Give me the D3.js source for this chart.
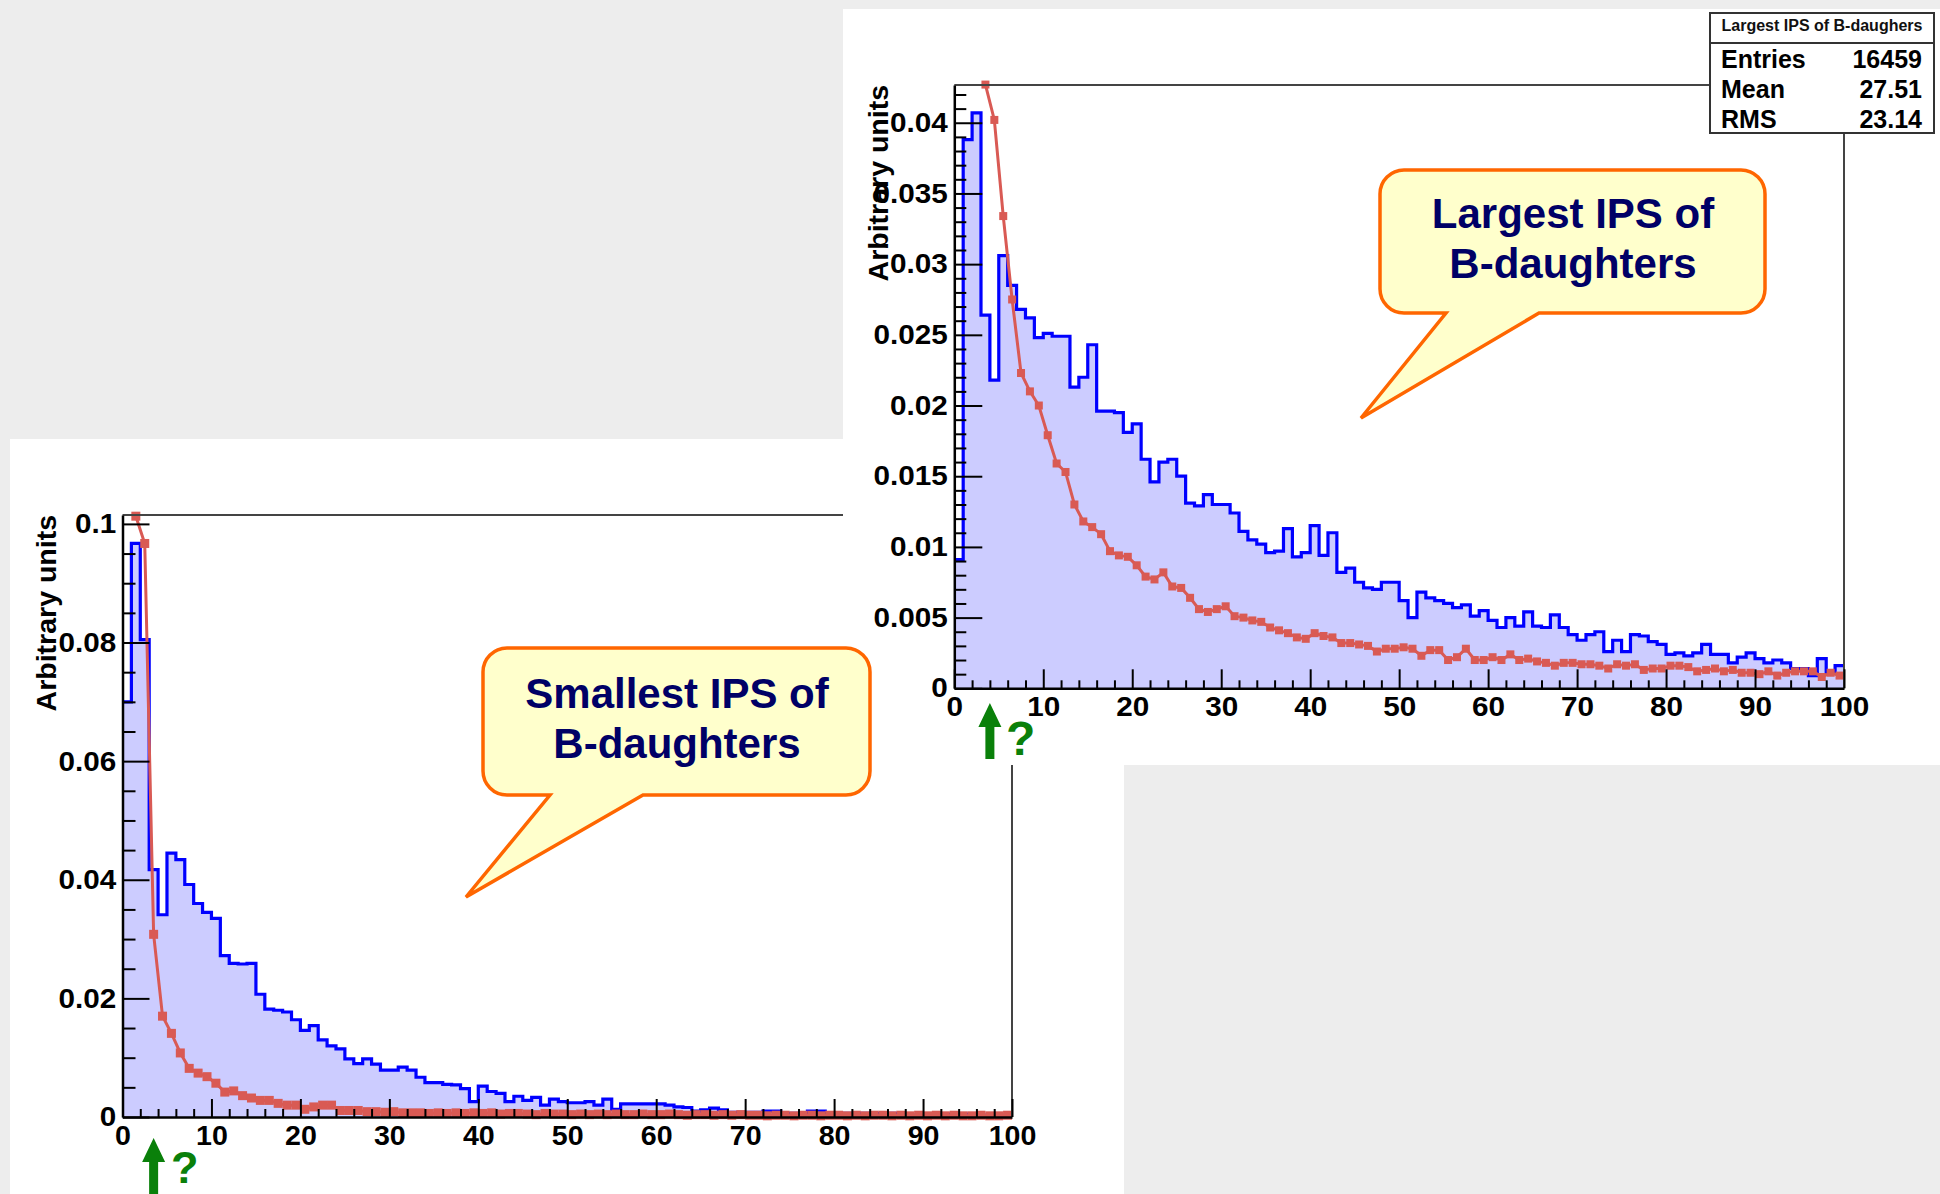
<!DOCTYPE html>
<html>
<head>
<meta charset="utf-8">
<script src="https://cdn.jsdelivr.net/npm/d3@7"></script>
<style>
  html, body { margin: 0; padding: 0; background: #ededed; }
  svg { display: block; }
  text { font-family: "Liberation Sans", Arial, Helvetica, sans-serif; font-weight: bold; }
</style>
</head>
<body>
<svg id="chart" width="1940" height="1194"></svg>
<script>
// ---- Smallest IPS of B-daughters: 100 bins of width 1 on [0,100) ----
const smallestHist = [
  0.0700,0.0967,0.0805,0.0417,0.0341,0.0445,0.0434,0.0392,0.0360,0.0345,
  0.0335,0.0272,0.0259,0.0258,0.0259,0.0207,0.0182,0.0180,0.0177,0.0164,
  0.0146,0.0154,0.0130,0.0120,0.0115,0.0098,0.0090,0.0098,0.0089,0.0079,
  0.0079,0.0084,0.0079,0.0067,0.0058,0.0058,0.0055,0.0054,0.0048,0.0026,
  0.0052,0.0043,0.0040,0.0026,0.0035,0.0028,0.0033,0.0020,0.0030,0.0026,
  0.0024,0.0024,0.0026,0.0020,0.0030,0.0013,0.0022,0.0022,0.0022,0.0022,
  0.0022,0.0020,0.0017,0.0016,0.0010,0.0012,0.0015,0.0012,0.0008,0.0008,
  0.0008,0.0008,0.0010,0.0010,0.0006,0.0006,0.0003,0.0010,0.0010,0.0003,
  0.0006,0.0006,0.0003,0.0006,0.0006,0.0003,0.0006,0.0003,0.0003,0.0003,
  0.0003,0.0005,0.0003,0.0005,0.0003,0.0005,0.0003,0.0002,0.0003,0.0002
];
// reference curve sampled at bin centres (first bin is off scale)
const smallestCurve = [
  null,  0.1013,0.0967,0.0308,0.0170,0.0141,0.0108,0.0082,0.0074,0.0068,
  0.0057,0.0042,0.0044,0.0036,0.0032,0.0028,0.0028,0.0023,0.0020,0.0020,
  0.0013,0.0017,0.0020,0.0020,0.0011,0.0011,0.0011,0.0009,0.0009,0.0008,
  0.0009,0.0007,0.0007,0.0007,0.0006,0.0007,0.0006,0.0007,0.0006,0.0007,
  0.0006,0.0007,0.0005,0.0006,0.0006,0.0005,0.0004,0.0006,0.0005,0.0005,
  0.0004,0.0005,0.0004,0.0005,0.0004,0.0005,0.0004,0.0004,0.0005,0.0004,
  0.0004,0.0005,0.0004,0.0003,0.0004,0.0004,0.0003,0.0004,0.0003,0.0004,
  0.0003,0.0003,0.0002,0.0003,0.0003,0.0002,0.0003,0.0003,0.0002,0.0003,
  0.0003,0.0002,0.0003,0.0002,0.0003,0.0003,0.0002,0.0003,0.0002,0.0003,
  0.0002,0.0003,0.0002,0.0003,0.0002,0.0002,0.0003,0.0002,0.0002,0.0003
];

// ---- Largest IPS of B-daughters ----
const largestHist = [
  0.0091,0.0388,0.0407,0.0264,0.0218,0.0306,0.0285,0.0268,0.0262,0.0248,
  0.0251,0.0249,0.0249,0.0213,0.0220,0.0243,0.0196,0.0196,0.0195,0.0181,
  0.0187,0.0162,0.0146,0.0160,0.0162,0.0150,0.0131,0.0129,0.0137,0.0130,
  0.0130,0.0124,0.0111,0.0105,0.0102,0.0096,0.0097,0.0113,0.0093,0.0096,
  0.0115,0.0094,0.0110,0.0082,0.0085,0.0075,0.0071,0.0070,0.0075,0.0075,
  0.0062,0.0050,0.0068,0.0064,0.0062,0.0060,0.0057,0.0059,0.0051,0.0055,
  0.0048,0.0043,0.0050,0.0044,0.0054,0.0044,0.0043,0.0052,0.0043,0.0038,
  0.0034,0.0038,0.0040,0.0026,0.0034,0.0026,0.0038,0.0037,0.0033,0.0031,
  0.0024,0.0025,0.0023,0.0025,0.0031,0.0024,0.0024,0.0018,0.0022,0.0025,
  0.0021,0.0018,0.0020,0.0018,0.0014,0.0014,0.0009,0.0021,0.0011,0.0016
];
const largestCurve = [
  null,  null,  null,  0.0427,0.0402,0.0334,0.0275,0.0223,0.0210,0.0200,
  0.0179,0.0159,0.0153,0.0130,0.0118,0.0114,0.0109,0.0097,0.0094,0.0093,
  0.0087,0.0079,0.0077,0.0082,0.0072,0.0071,0.0064,0.0056,0.0054,0.0056,
  0.0058,0.0051,0.0050,0.0048,0.0047,0.0043,0.0041,0.0039,0.0036,0.0035,
  0.0039,0.0037,0.0036,0.0032,0.0032,0.0031,0.0030,0.0026,0.0028,0.0028,
  0.0029,0.0028,0.0023,0.0027,0.0027,0.0020,0.0022,0.0028,0.0020,0.0020,
  0.0022,0.0020,0.0024,0.0020,0.0021,0.0019,0.0018,0.0016,0.0018,0.0018,
  0.0017,0.0017,0.0016,0.0014,0.0017,0.0016,0.0017,0.0013,0.0014,0.0014,
  0.0016,0.0016,0.0015,0.0012,0.0013,0.0014,0.0012,0.0013,0.0011,0.0011,
  0.0010,0.0012,0.0009,0.0011,0.0012,0.0012,0.0012,0.0008,0.0011,0.0009
];

// ---- tick labels ----
const xTickValues = [0,10,20,30,40,50,60,70,80,90,100];
const xTickLabels = ["0","10","20","30","40","50","60","70","80","90","100"];
const smallestYTicks = [0,0.02,0.04,0.06,0.08,0.1];
const smallestYLabels = ["0","0.02","0.04","0.06","0.08","0.1"];
const largestYTicks = [0,0.005,0.01,0.015,0.02,0.025,0.03,0.035,0.04];
const largestYLabels = ["0","0.005","0.01","0.015","0.02","0.025","0.03","0.035","0.04"];

// ---- statistics box ----
const statsTitle = "Largest IPS of B-daughers";
const statsNames = ["Entries","Mean","RMS"];
const statsValues = ["16459","27.51","23.14"];

const yAxisTitle = "Arbitrary units";
const smallestCaption = ["Smallest IPS of","B-daughters"];
const largestCaption = ["Largest IPS of","B-daughters"];

const svg = d3.select("#chart");

const HIST_LINE = "#0000ff", HIST_FILL = "#ccccff", CURVE = "#d95a54";

function drawPlot(g, cfg) {
  const x = d3.scaleLinear().domain([0, 100]).range([cfg.x0, cfg.x1]);
  const y = d3.scaleLinear().domain([0, cfg.yMax]).range([cfg.yBottom, cfg.yTop]);

  const steps = cfg.hist.map((v, i) => [i, v]).concat([[100, cfg.hist[cfg.hist.length - 1]]]);

  g.append("path")
    .datum(steps)
    .attr("fill", HIST_FILL)
    .attr("d", d3.area().curve(d3.curveStepAfter)
      .x(d => x(d[0])).y0(y(0)).y1(d => y(d[1])));

  g.append("path")
    .datum(steps)
    .attr("fill", "none")
    .attr("stroke", HIST_LINE)
    .attr("stroke-width", 3.2)
    .attr("d", d3.line().curve(d3.curveStepAfter)
      .x(d => x(d[0])).y(d => y(d[1])));

  const pts = cfg.curve.map((v, i) => [i + 0.5, v]);
  g.append("path")
    .datum(pts)
    .attr("fill", "none")
    .attr("stroke", CURVE)
    .attr("stroke-width", 3)
    .attr("d", d3.line().defined(d => d[1] != null)
      .x(d => x(d[0])).y(d => y(d[1])));

  const ms = cfg.marker;
  g.append("g").selectAll("rect")
    .data(pts.filter(d => d[1] != null))
    .join("rect")
    .attr("x", d => x(d[0]) - ms / 2)
    .attr("y", d => y(d[1]) - ms / 2)
    .attr("width", ms).attr("height", ms)
    .attr("fill", CURVE);

  // frame (top and right)
  g.append("path")
    .attr("d", `M${cfg.x0},${cfg.yTop}H${cfg.x1}V${cfg.yBottom}`)
    .attr("fill", "none").attr("stroke", "#444").attr("stroke-width", 2);

  // x axis: major + minor ticks pointing inward
  const xMajor = g.append("g")
    .attr("transform", `translate(0,${cfg.yBottom})`)
    .call(d3.axisBottom(x).tickValues(xTickValues)
      .tickFormat((d, i) => xTickLabels[i])
      .tickSizeInner(-cfg.xMajorLen).tickSizeOuter(0).tickPadding(9));
  const xMinor = g.append("g")
    .attr("transform", `translate(0,${cfg.yBottom})`)
    .call(d3.axisBottom(x).tickValues(d3.range(2, 100, 2).filter(v => v % 10 !== 0))
      .tickFormat("").tickSizeInner(-cfg.xMinorLen).tickSizeOuter(0));
  xMinor.select(".domain").remove();

  const yMajor = g.append("g")
    .attr("transform", `translate(${cfg.x0},0)`)
    .call(d3.axisLeft(y).tickValues(cfg.yTicks)
      .tickFormat((d, i) => cfg.yLabels[i])
      .tickSizeInner(-cfg.yMajorLen).tickSizeOuter(0).tickPadding(6));
  const yMinor = g.append("g")
    .attr("transform", `translate(${cfg.x0},0)`)
    .call(d3.axisLeft(y).tickValues(d3.range(0, cfg.yMax, cfg.yMinorStep)
        .filter(v => !cfg.yTicks.some(t => Math.abs(t - v) < 1e-9)))
      .tickFormat("").tickSizeInner(-cfg.yMinorLen).tickSizeOuter(0));
  yMinor.select(".domain").remove();

  [xMajor, xMinor, yMajor, yMinor].forEach(a => {
    a.attr("font-family", null).attr("font-size", null);
    a.selectAll(".tick line").attr("stroke", "#000").attr("stroke-width", 2);
    a.select(".domain").attr("stroke", "#000").attr("stroke-width", 2.5);
  });
  // labels are slightly widened, as in the exported plots
  xMajor.selectAll("text").attr("font-size", cfg.xFont).attr("fill", "#000")
    .attr("transform", `scale(${cfg.stretch},1)`);
  yMajor.selectAll("text").attr("font-size", cfg.yFont).attr("fill", "#000")
    .attr("transform", `scale(${cfg.stretch},1)`);

  g.append("text")
    .attr("transform", `translate(${cfg.titleX},${cfg.yTop}) rotate(-90)`)
    .attr("text-anchor", "end")
    .attr("font-size", 28.5)
    .attr("fill", "#000")
    .text(yAxisTitle);

  return { x, y };
}

function calloutPath(x0, y0, x1, y1, r, b1, b2, tx, ty) {
  return `M${x0 + r},${y0}H${x1 - r}A${r},${r} 0 0 1 ${x1},${y0 + r}` +
    `V${y1 - r}A${r},${r} 0 0 1 ${x1 - r},${y1}H${b2}L${tx},${ty}L${b1},${y1}` +
    `H${x0 + r}A${r},${r} 0 0 1 ${x0},${y1 - r}V${y0 + r}A${r},${r} 0 0 1 ${x0 + r},${y0}Z`;
}

function drawCallout(g, box, lines, cx, baseline) {
  g.append("path")
    .attr("d", calloutPath(...box))
    .attr("fill", "#ffffcc")
    .attr("stroke", "#ff6600")
    .attr("stroke-width", 3.5)
    .attr("stroke-linejoin", "miter");
  lines.forEach((t, i) => {
    g.append("text")
      .attr("x", cx).attr("y", baseline + i * 50)
      .attr("text-anchor", "middle")
      .attr("font-size", 42)
      .attr("fill", "#000066")
      .text(t);
  });
}

function drawArrow(g, cx, top, bottom, qx, qy, fs) {
  g.append("path")
    .attr("d", `M${cx},${top}L${cx + 11.5},${top + 24}H${cx + 4.5}V${bottom}H${cx - 4.5}V${top + 24}H${cx - 11.5}Z`)
    .attr("fill", "#0a800a");
  g.append("text")
    .attr("x", qx).attr("y", qy)
    .attr("font-size", fs)
    .attr("fill", "#0a800a")
    .text("?");
}

// ---- left slide: smallest IPS ----
svg.append("rect").attr("x", 10).attr("y", 439).attr("width", 1114).attr("height", 760).attr("fill", "#fff");
const left = drawPlot(svg.append("g"), {
  x0: 122.5, x1: 1012, yBottom: 1117, yTop: 515, yMax: 0.1015,
  hist: smallestHist, curve: smallestCurve,
  yTicks: smallestYTicks, yLabels: smallestYLabels, yMinorStep: 0.005,
  xMajorLen: 18, xMinorLen: 8, yMajorLen: 27, yMinorLen: 13,
  xFont: 27, yFont: 28, stretch: 1.06, titleX: 56, marker: 9
});

// ---- right slide: largest IPS ----
svg.append("rect").attr("x", 843).attr("y", 9).attr("width", 1097).attr("height", 756).attr("fill", "#fff");
const right = drawPlot(svg.append("g"), {
  x0: 954.3, x1: 1844, yBottom: 688.3, yTop: 85, yMax: 0.04267,
  hist: largestHist, curve: largestCurve,
  yTicks: largestYTicks, yLabels: largestYLabels, yMinorStep: 0.001,
  xMajorLen: 19, xMinorLen: 8, yMajorLen: 28, yMinorLen: 12,
  xFont: 27, yFont: 27, stretch: 1.1, titleX: 888, marker: 8
});

// statistics box
const stats = svg.append("g");
stats.append("rect").attr("x", 1710).attr("y", 13).attr("width", 224).attr("height", 120)
  .attr("fill", "#fff").attr("stroke", "#333").attr("stroke-width", 2);
stats.append("line").attr("x1", 1710).attr("x2", 1934).attr("y1", 43).attr("y2", 43)
  .attr("stroke", "#333").attr("stroke-width", 2);
stats.append("text").attr("x", 1822).attr("y", 31).attr("text-anchor", "middle")
  .attr("font-size", 16).attr("fill", "#111").text(statsTitle);
statsNames.forEach((n, i) => {
  stats.append("text").attr("x", 1721).attr("y", 68 + i * 30)
    .attr("font-size", 25).attr("fill", "#000").text(n);
  stats.append("text").attr("x", 1922).attr("y", 68 + i * 30).attr("text-anchor", "end")
    .attr("font-size", 25).attr("fill", "#000").text(statsValues[i]);
});

// callouts
const notes = svg.append("g");
drawCallout(notes, [483, 648, 870, 795, 24, 550, 643, 466, 897], smallestCaption, 677, 708);
drawCallout(notes, [1380, 170, 1765, 313, 24, 1446, 1539, 1361, 418], largestCaption, 1573, 228);

// arrows marking the low-IPS region
drawArrow(svg.append("g"), left.x(3.5), 1138, 1200, 171, 1183, 45);
drawArrow(svg.append("g"), right.x(4), 703, 759, 1006, 755, 48);
</script>
</body>
</html>
